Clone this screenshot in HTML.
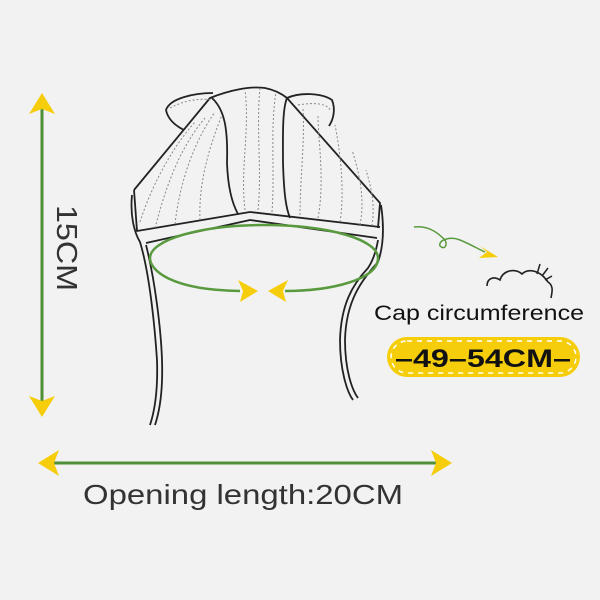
<!DOCTYPE html>
<html><head><meta charset="utf-8"><style>
html,body{margin:0;padding:0;background:#f2f2f2;}
svg{display:block;}
</style></head><body>
<svg width="600" height="600" viewBox="0 0 600 600" xmlns="http://www.w3.org/2000/svg">
<rect width="600" height="600" fill="#f2f2f2"/>
<!-- vertical dimension -->
<line x1="42" y1="105" x2="42" y2="405" stroke="#4f8f36" stroke-width="3"/>
<polygon points="42,93 29,114 42,109 55,114" fill="#f5cd0a"/>
<polygon points="42,417 29,396 42,401 55,396" fill="#f5cd0a"/>
<text x="0" y="0" transform="translate(57,248) rotate(90)" font-family="Liberation Sans, sans-serif" font-size="29" fill="#333" text-anchor="middle" textLength="86" lengthAdjust="spacingAndGlyphs">15CM</text>
<!-- horizontal dimension -->
<line x1="50" y1="463" x2="442" y2="463" stroke="#4f8f36" stroke-width="3"/>
<polygon points="38,463 59,450 54,463 59,476" fill="#f5cd0a"/>
<polygon points="452,463 431,450 436,463 431,476" fill="#f5cd0a"/>
<text x="83" y="504" font-family="Liberation Sans, sans-serif" font-size="28" fill="#333" textLength="320" lengthAdjust="spacingAndGlyphs">Opening length:20CM</text>
<!-- hat -->
<g fill="none" stroke="#222" stroke-width="1.8" stroke-linejoin="round">
 <!-- ears -->
 <path d="M213,93 C195,93 170,98 166,110 C168,120 176,126 184,130"/>
 <path d="M287,98 C300,92 322,93 332,100 C336,110 333,120 329,126"/>
 <!-- crown -->
 <path d="M134,190 L210,98 C230,90 250,86 265,88 C275,90 282,94 287,98 L380,203 L378,228"/>
 <path d="M212,98 C225,110 228,130 227,163 C228,190 233,205 238,214"/>
 <path d="M287,98 C282,110 283,140 283,163 C284,195 286,208 290,218"/>
 <!-- rim -->
 <path d="M134,190 L137,231 L250,212 L380,227"/>
 <path d="M146,243 L250,220 L377,238"/>
 <path d="M132,195 C130,215 134,232 140,242 C150,275 155,330 157,360 C158,390 155,410 150,425"/>
 <path d="M146,245 C155,280 161,330 162,360 C163,390 160,410 155,425"/>
 <path d="M381,205 C384,225 384,245 378,262 C362,280 346,300 345,340 C345,370 352,390 358,398"/>
 <path d="M378,240 C376,252 372,262 368,268 C352,285 341,305 340,340 C340,370 347,392 353,400"/>
</g>
<g fill="none" stroke="#888" stroke-width="1" stroke-dasharray="2,2">
 <path d="M170,108 C185,100 200,98 212,100"/>
 <path d="M298,105 C315,102 328,104 330,110"/>
 <path d="M140,222 C150,190 170,150 195,122"/>
 <path d="M155,228 C165,190 178,150 205,118"/>
 <path d="M175,224 C180,180 195,140 215,112"/>
 <path d="M200,220 C198,180 212,140 222,115"/>
 <path d="M245,210 C240,170 250,130 245,90"/>
 <path d="M258,210 C262,170 256,130 260,88"/>
 <path d="M272,212 C275,170 270,130 276,92"/>
 <path d="M300,215 C300,180 305,140 303,108"/>
 <path d="M318,218 C325,180 318,140 318,115"/>
 <path d="M340,222 C345,190 340,150 335,125"/>
 <path d="M360,225 C365,200 360,175 352,150"/>
 <path d="M372,226 C375,205 372,190 366,170"/>
</g>
<!-- green ellipse -->
<path d="M240,291 C170,290 150,270 150,258 C150,240 200,225 264,225 C330,225 378,240 378,258 C378,280 330,291 285,291" fill="none" stroke="#5a9a3e" stroke-width="2.5"/>
<polygon points="258,291 238,280 243,291 240,302" fill="#f5cd0a"/>
<polygon points="268,291 288,280 283,291 286,302" fill="#f5cd0a"/>
<!-- curly arrow -->
<path d="M414,227 C430,225 440,235 445,240 C448,246 444,250 440,246 C438,240 450,236 460,240 C470,244 480,250 485,252" fill="none" stroke="#5a9a3e" stroke-width="1.5"/>
<polygon points="498,257 480,246 487,252 479,258" fill="#f5cd0a"/>
<!-- cloud doodle -->
<path d="M487,286 C487,278 494,276 500,280 C503,270 515,268 522,274 C528,268 540,270 548,282 C554,286 552,292 551,298" fill="none" stroke="#222" stroke-width="1.6"/>
<path d="M537,274 L540,264 M542,276 L548,268 M545,280 L552,276" stroke="#222" stroke-width="1.5"/>
<text x="374" y="320" font-family="Liberation Sans, sans-serif" font-size="21" fill="#111" textLength="210" lengthAdjust="spacingAndGlyphs">Cap circumference</text>
<!-- yellow badge -->
<rect x="387" y="337" width="193" height="40" rx="20" fill="#f5cd0a"/>
<rect x="391" y="341" width="185" height="32" rx="16" fill="none" stroke="#fff" stroke-width="1.5" stroke-dasharray="5,5"/>
<text x="483" y="367" text-anchor="middle" font-family="Liberation Sans, sans-serif" font-weight="bold" font-size="25" fill="#111" textLength="176" lengthAdjust="spacingAndGlyphs">–49–54CM–</text>
</svg>
</body></html>
